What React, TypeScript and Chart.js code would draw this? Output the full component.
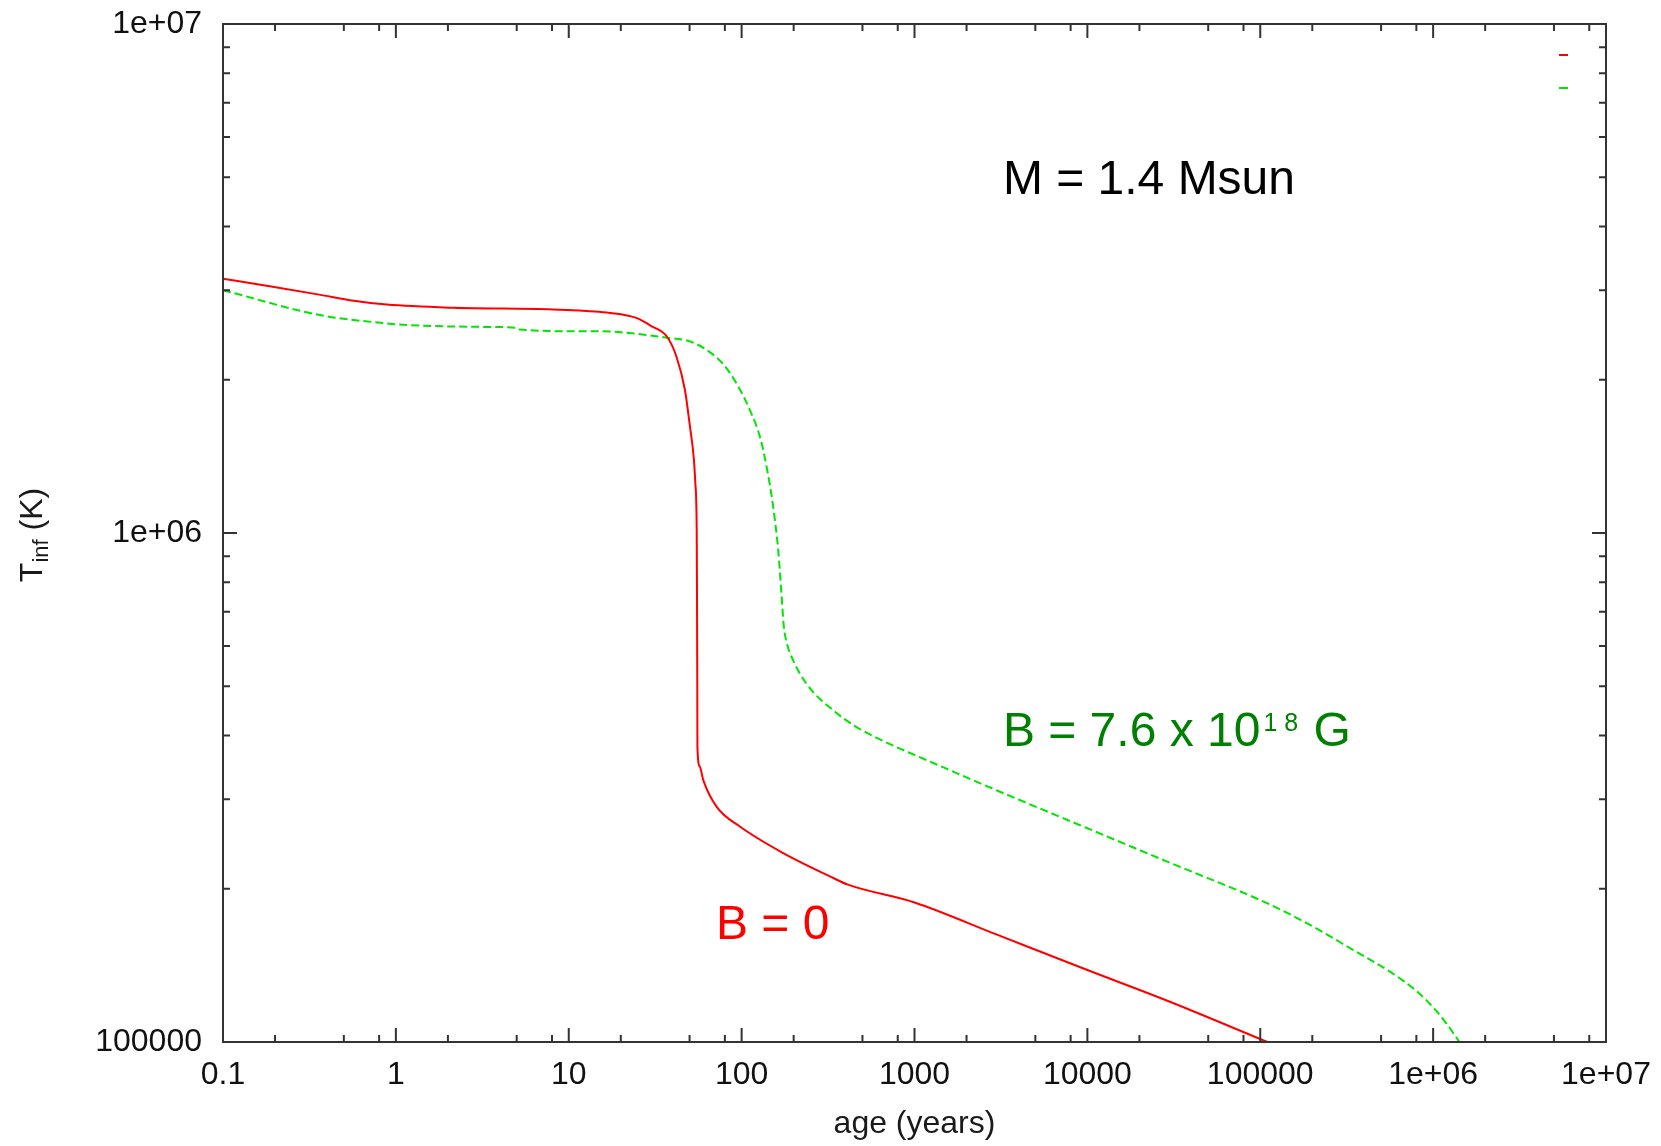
import React, { useEffect, useRef } from "react";
import { Chart, registerables } from "chart.js";

Chart.register(...registerables);

// ---- Data ----
const redAge = [0.1, 0.19, 0.36, 0.57, 0.885, 2.15, 8.1, 15, 20, 25, 30, 37, 42, 47, 50, 53, 54, 55, 55.2, 55.4, 55.5, 57.2, 60, 71.6, 97.7, 174, 339, 408, 1000, 3000, 10000, 30000, 110000];
const redTemp = [3.16e6, 3.05e6, 2.94e6, 2.86e6, 2.81e6, 2.77e6, 2.75e6, 2.72e6, 2.69e6, 2.64e6, 2.55e6, 2.43e6, 2.22e6, 1.91e6, 1.64e6, 1.39e6, 1.25e6, 1.0e6, 7.4e5, 5.0e5, 3.8e5, 3.48e5, 3.27e5, 2.9e5, 2.65e5, 2.35e5, 2.1e5, 2.04e5, 1.88e5, 1.625e5, 1.385e5, 1.2e5, 1.0e5];

const greenAge = [0.1, 0.364, 0.885, 1, 3.35, 5, 5.2, 12.7, 15, 37, 50, 62.6, 78, 94, 112, 128, 140, 152, 163, 170, 175, 182, 195, 238, 354, 450, 552, 824, 1000, 3000, 10000, 30000, 100000, 170000, 330000, 590000, 800000, 1000000, 1200000, 1420000];
const greenTemp = [3.0e6, 2.68e6, 2.58e6, 2.57e6, 2.54e6, 2.53e6, 2.51e6, 2.49e6, 2.49e6, 2.42e6, 2.38e6, 2.29e6, 2.15e6, 1.96e6, 1.74e6, 1.54e6, 1.34e6, 1.13e6, 9.2e5, 7.6e5, 6.6e5, 6.1e5, 5.7e5, 5.05e5, 4.43e5, 4.18e5, 4.02e5, 3.77e5, 3.665e5, 3.12e5, 2.63e5, 2.25e5, 1.9e5, 1.74e5, 1.53e5, 1.36e5, 1.26e5, 1.17e5, 1.085e5, 1.0e5];

const xTickValues = [0.1, 1, 10, 100, 1000, 10000, 100000, 1000000, 10000000];
const xTickLabels = ["0.1", "1", "10", "100", "1000", "10000", "100000", "1e+06", "1e+07"];
const yTickValues = [100000, 1000000, 10000000];
const yTickLabels = ["100000", "1e+06", "1e+07"];
const xMinorMultipliers = [2, 5, 8];
const yMinorMultipliers = [2, 3, 4, 5, 6, 7, 8, 9];

const xTitle = "age (years)";
const yTitleMain = "T";
const yTitleSub = "inf";
const yTitleTail = " (K)";

const annotationTexts = ["M = 1.4 Msun", "B = 7.6 x 10", "B = 0"];
const annotationSups = [[], ["1", "8"], []];
const annotationTails = ["", " G", ""];
const annotationAges = [3245, 3245, 71];
const annotationTemps = [4.63e6, 3.815e5, 1.597e5];
const annotationColors = ["#000000", "#008000", "#ff0000"];

const RED = "#ff0000";
const GREEN = "#00e600";
const FONT = '"Liberation Sans", Arial, Helvetica, sans-serif';
const AXIS_COLOR = "#333333";

const framePlugin = {
  id: "gnuplotFrame",
  afterDatasetsDraw(chart: any) {
    const { ctx, chartArea, scales } = chart;
    const xs = scales.x;
    const ys = scales.y;
    const { left, right, top, bottom } = chartArea;
    ctx.save();
    ctx.strokeStyle = AXIS_COLOR;
    ctx.lineWidth = 2;
    ctx.strokeRect(left, top, right - left, bottom - top);
    const major = 14;
    const minor = 7;
    ctx.beginPath();
    for (let d = -1; d <= 7; d++) {
      const base = Math.pow(10, d);
      const px = xs.getPixelForValue(base);
      ctx.moveTo(px, bottom); ctx.lineTo(px, bottom - major);
      ctx.moveTo(px, top); ctx.lineTo(px, top + major);
      if (d < 7) {
        for (const m of xMinorMultipliers) {
          const p = xs.getPixelForValue(base * m);
          ctx.moveTo(p, bottom); ctx.lineTo(p, bottom - minor);
          ctx.moveTo(p, top); ctx.lineTo(p, top + minor);
        }
      }
    }
    for (let d = 5; d <= 7; d++) {
      const base = Math.pow(10, d);
      const py = ys.getPixelForValue(base);
      ctx.moveTo(left, py); ctx.lineTo(left + major, py);
      ctx.moveTo(right, py); ctx.lineTo(right - major, py);
      if (d < 7) {
        for (const m of yMinorMultipliers) {
          const p = ys.getPixelForValue(base * m);
          ctx.moveTo(left, p); ctx.lineTo(left + minor, p);
          ctx.moveTo(right, p); ctx.lineTo(right - minor, p);
        }
      }
    }
    ctx.stroke();

    // legend sample dashes
    ctx.lineWidth = 2;
    ctx.strokeStyle = RED;
    ctx.beginPath();
    ctx.moveTo(right - 47, top + 31); ctx.lineTo(right - 38, top + 31);
    ctx.stroke();
    ctx.strokeStyle = GREEN;
    ctx.beginPath();
    ctx.moveTo(right - 47, top + 64); ctx.lineTo(right - 38, top + 64);
    ctx.stroke();

    // annotations
    ctx.textAlign = "left";
    ctx.textBaseline = "alphabetic";
    for (let i = 0; i < annotationTexts.length; i++) {
      ctx.fillStyle = annotationColors[i];
      let x = xs.getPixelForValue(annotationAges[i]);
      const y = ys.getPixelForValue(annotationTemps[i]);
      ctx.font = `48px ${FONT}`;
      ctx.fillText(annotationTexts[i], x, y);
      x += ctx.measureText(annotationTexts[i]).width;
      const sups = annotationSups[i];
      if (sups.length) {
        ctx.font = `25px ${FONT}`;
        x += 3;
        for (let k = 0; k < sups.length; k++) {
          ctx.fillText(sups[k], x, y - 15);
          x += ctx.measureText(sups[k]).width + (k < sups.length - 1 ? 7 : 2);
        }
      }
      if (annotationTails[i]) {
        ctx.font = `48px ${FONT}`;
        ctx.fillText(annotationTails[i], x, y);
      }
    }

    // axis titles
    ctx.fillStyle = "#1a1a1a";
    ctx.font = `32px ${FONT}`;
    ctx.textAlign = "center";
    ctx.fillText(xTitle, (left + right) / 2, bottom + 91);

    ctx.textAlign = "left";
    const mainFont = `32px ${FONT}`;
    const subFont = `22px ${FONT}`;
    ctx.font = mainFont;
    const wMain = ctx.measureText(yTitleMain).width;
    const wTail = ctx.measureText(yTitleTail).width;
    ctx.font = subFont;
    const wSub = ctx.measureText(yTitleSub).width;
    const total = wMain + wSub + wTail;
    ctx.translate(42, (top + bottom) / 2 + 2);
    ctx.rotate(-Math.PI / 2);
    let x0 = -total / 2;
    ctx.font = mainFont;
    ctx.fillText(yTitleMain, x0, 0);
    x0 += wMain;
    ctx.font = subFont;
    ctx.fillText(yTitleSub, x0, 6);
    x0 += wSub;
    ctx.font = mainFont;
    ctx.fillText(yTitleTail, x0, 0);
    ctx.restore();
  },
};

export default function App() {
  const canvasRef = useRef<HTMLCanvasElement | null>(null);

  useEffect(() => {
    if (!canvasRef.current) return;
    const chart = new Chart(canvasRef.current, {
      type: "scatter",
      data: {
        datasets: [
          {
            label: "B = 0",
            data: redAge.map((a, i) => ({ x: a, y: redTemp[i] })),
            showLine: true,
            borderColor: RED,
            borderWidth: 2,
            pointRadius: 0,
            cubicInterpolationMode: "monotone",
          },
          {
            label: "B = 7.6 x 10^18 G",
            data: greenAge.map((a, i) => ({ x: a, y: greenTemp[i] })),
            showLine: true,
            borderColor: GREEN,
            borderWidth: 2,
            borderDash: [8, 4],
            pointRadius: 0,
            cubicInterpolationMode: "monotone",
          },
        ],
      },
      options: {
        animation: false,
        responsive: false,
        maintainAspectRatio: false,
        layout: { padding: { left: 0, top: 24, right: 55, bottom: 0 } },
        plugins: { legend: { display: false }, tooltip: { enabled: false } },
        scales: {
          x: {
            type: "logarithmic",
            min: 0.1,
            max: 1e7,
            grid: { display: false, drawTicks: false },
            border: { display: false },
            ticks: {
              padding: 14,
              color: "#111111",
              font: { family: FONT, size: 32 },
              maxRotation: 0,
              autoSkip: false,
              callback: (v: any) => {
                const i = xTickValues.findIndex((t) => Math.abs(t - Number(v)) / t < 1e-6);
                return i >= 0 ? xTickLabels[i] : "";
              },
            },
            afterBuildTicks: (s: any) => {
              s.ticks = xTickValues.map((v) => ({ value: v }));
            },
            afterFit: (s: any) => {
              s.height = 104;
              s.paddingLeft = 0;
              s.paddingRight = 0;
              s.paddingTop = 0;
              s.paddingBottom = 0;
            },
          },
          y: {
            type: "logarithmic",
            min: 1e5,
            max: 1e7,
            grid: { display: false, drawTicks: false },
            border: { display: false },
            ticks: {
              padding: 21,
              color: "#111111",
              font: { family: FONT, size: 32 },
              autoSkip: false,
              callback: (v: any) => {
                const i = yTickValues.findIndex((t) => Math.abs(t - Number(v)) / t < 1e-6);
                return i >= 0 ? yTickLabels[i] : "";
              },
            },
            afterBuildTicks: (s: any) => {
              s.ticks = yTickValues.map((v) => ({ value: v }));
            },
            afterFit: (s: any) => {
              s.width = 223;
              s.paddingTop = 0;
              s.paddingBottom = 0;
              s.paddingLeft = 0;
              s.paddingRight = 0;
            },
          },
        },
      },
      plugins: [framePlugin],
    } as any);
    return () => chart.destroy();
  }, []);

  return (
    <div style={{ position: "absolute", left: 0, top: 0, width: 1661, height: 1146, background: "#ffffff" }}>
      <canvas ref={canvasRef} width={1661} height={1146} style={{ display: "block" }} />
    </div>
  );
}
